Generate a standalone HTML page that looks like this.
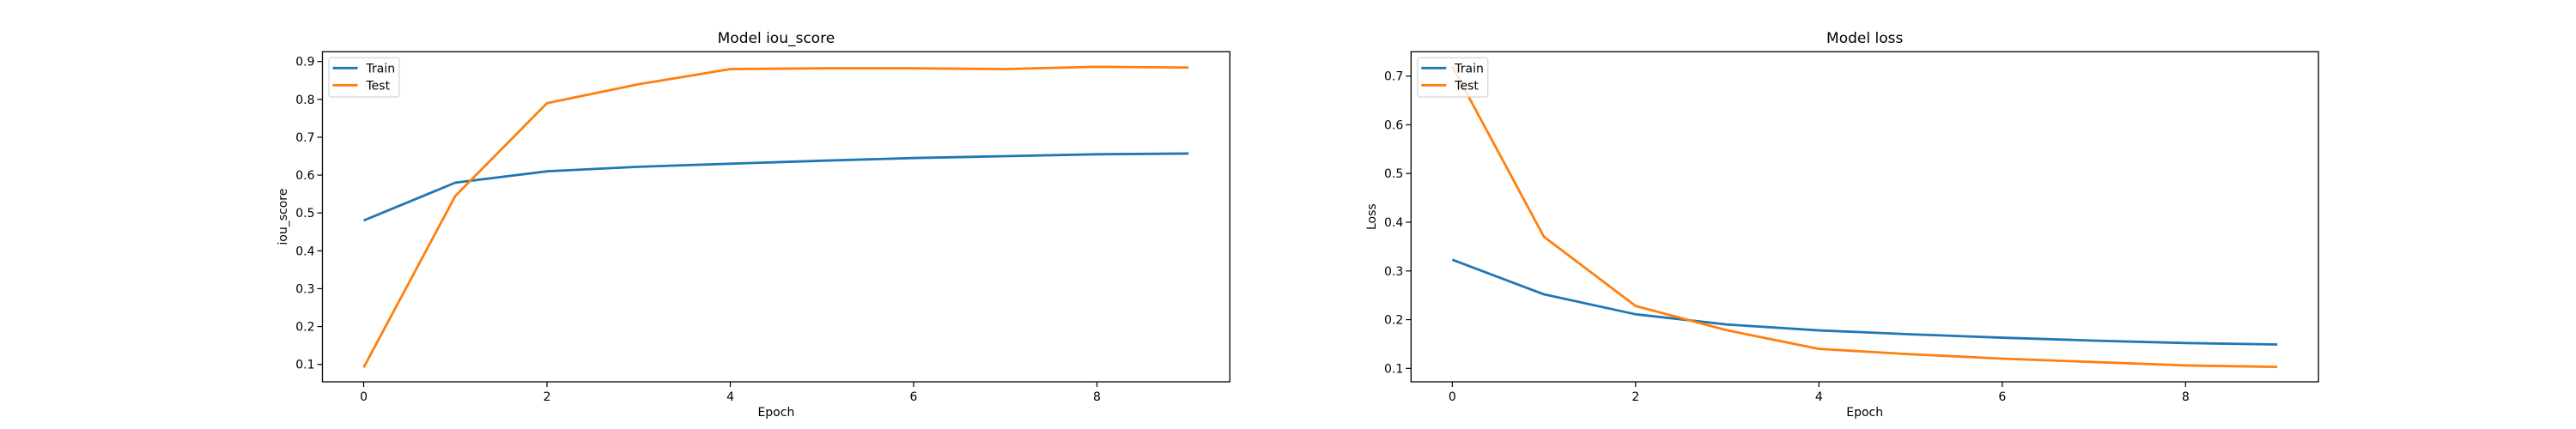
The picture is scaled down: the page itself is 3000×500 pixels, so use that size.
<!DOCTYPE html>
<html><head><meta charset="utf-8"><style>
html,body{margin:0;padding:0;background:#fff;}
svg{display:block;font-family:"DejaVu Sans","Liberation Sans",sans-serif;}
</style></head><body>
<svg id="fig" width="3000" height="500" viewBox="0 0 3000 500" xmlns="http://www.w3.org/2000/svg"></svg>
<script>
const epochs = [0,1,2,3,4,5,6,7,8,9];
const iouTrain = [0.48,0.58,0.61,0.622,0.63,0.638,0.645,0.65,0.655,0.657];
const iouTest = [0.092,0.545,0.79,0.84,0.88,0.882,0.882,0.88,0.886,0.884];
const lossTrain = [0.323,0.252,0.211,0.19,0.178,0.17,0.163,0.157,0.152,0.149];
const lossTest = [0.72,0.37,0.228,0.178,0.14,0.129,0.12,0.113,0.106,0.103];
const xTicks = [0,2,4,6,8];
const iouYTicks = [0.1,0.2,0.3,0.4,0.5,0.6,0.7,0.8,0.9];
const lossYTicks = [0.1,0.2,0.3,0.4,0.5,0.6,0.7];

const NS='http://www.w3.org/2000/svg';
const svg=document.getElementById('fig');
function mk(tag,attrs,parent){const e=document.createElementNS(NS,tag);for(const k in attrs)e.setAttribute(k,attrs[k]);(parent||svg).appendChild(e);return e;}

function chart(opt){
  const g=mk('g',{});
  
  
  const L=opt.left,R=opt.right,T=60.3,B=445;
  const xmin=-0.45,xmax=9.45;
  const X=v=>L+(v-xmin)/(xmax-xmin)*(R-L);
  const Y=v=>B-(v-opt.ymin)/(opt.ymax-opt.ymin)*(B-T);
  const title=mk('text',{x:(L+R)/2,y:50,'text-anchor':'middle','font-size':17,fill:'#000'},g);
  title.textContent=opt.title;
  
  
  const cols=['#1f77b4','#ff7f0e'];
  opt.series.forEach((s,i)=>{
    const p=mk('polyline',{points:epochs.map((e,j)=>X(e)+','+Y(s[j])).join(' '),fill:'none',stroke:cols[i],'stroke-width':2.8,'stroke-linejoin':'round'},g);
    
    
  });
  const fr=mk('rect',{x:L,y:T,width:R-L,height:B-T,fill:'none',stroke:'#000','stroke-width':1.3},g);
  
  
  xTicks.forEach(t=>{
    mk('line',{x1:X(t),x2:X(t),y1:B,y2:B+6,stroke:'#000','stroke-width':1.2},g);
    const tx=mk('text',{x:X(t),y:B+22,'text-anchor':'middle','font-size':14},g);
    tx.textContent=t;
    
    
  });
  opt.yTicks.forEach(t=>{
    mk('line',{x1:L-6,x2:L,y1:Y(t),y2:Y(t),stroke:'#000','stroke-width':1.2},g);
    const tx=mk('text',{x:L-9,y:Y(t)+5,'text-anchor':'end','font-size':14},g);
    tx.textContent=t.toFixed(1);
    
    
  });
  const xl=mk('text',{x:(L+R)/2,y:485,'text-anchor':'middle','font-size':14},g);
  xl.textContent='Epoch';
  
  
  const yl=mk('text',{x:0,y:0,'text-anchor':'middle','font-size':14,transform:'translate('+opt.ylabX+','+((T+B)/2)+') rotate(-90)'},g);
  yl.textContent=opt.ylabel;
  
  
  const lg=mk('g',{},g);
  
  
  mk('rect',{x:L+7.5,y:67.3,width:82,height:45.7,rx:3,fill:'#fff','fill-opacity':0.8,stroke:'#ccc','stroke-width':1},lg);
  ['Train','Test'].forEach((n,i)=>{
    const yy=79.3+i*20;
    mk('line',{x1:L+12,x2:L+41,y1:yy,y2:yy,stroke:cols[i],'stroke-width':2.8},lg);
    const t=mk('text',{x:L+51,y:yy+5,'font-size':14},lg);
    t.textContent=n;
    
    
  });
}
chart({name:'iou-chart',title:'Model iou_score',left:375.5,right:1432.3,ymin:0.054,ymax:0.9258,yTicks:iouYTicks,ylabel:'iou_score',ylabX:334,series:[iouTrain,iouTest]});
chart({name:'loss-chart',title:'Model loss',left:1643.3,right:2700.1,ymin:0.0724,ymax:0.75,yTicks:lossYTicks,ylabel:'Loss',ylabX:1602,series:[lossTrain,lossTest]});
</script>
</body></html>
